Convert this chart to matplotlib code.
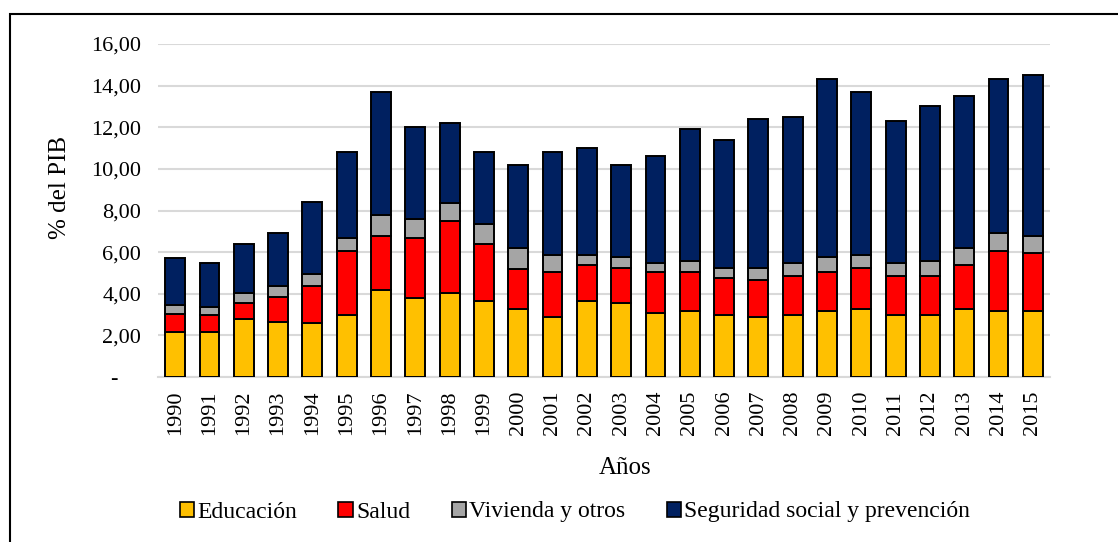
import matplotlib
matplotlib.use("Agg")
import matplotlib.pyplot as plt
from matplotlib.patches import Patch, Rectangle
import numpy as np

years = [str(y) for y in range(1990, 2016)]
educacion = [2.15, 2.15, 2.77, 2.66, 2.58, 2.98, 4.16, 3.78, 4.06, 3.65, 3.26,
             2.86, 3.65, 3.57, 3.06, 3.17, 2.98, 2.86, 2.98, 3.17, 3.26, 2.98,
             2.98, 3.26, 3.17, 3.17]
salud = [0.90, 0.83, 0.80, 1.20, 1.80, 3.08, 2.61, 2.91, 3.44, 2.73, 1.91,
         2.20, 1.73, 1.69, 2.00, 1.89, 1.79, 1.80, 1.88, 1.89, 2.00, 1.88,
         1.88, 2.12, 2.89, 2.80]
vivienda = [0.40, 0.40, 0.48, 0.51, 0.56, 0.60, 0.99, 0.88, 0.87, 0.96, 1.01,
            0.80, 0.48, 0.52, 0.43, 0.51, 0.49, 0.60, 0.63, 0.72, 0.60, 0.63,
            0.72, 0.80, 0.84, 0.81]
seguridad = [2.25, 2.11, 2.33, 2.53, 3.46, 4.14, 5.94, 4.43, 3.83, 3.46, 4.02,
             4.94, 5.14, 4.42, 5.11, 6.33, 6.14, 7.14, 7.01, 8.52, 7.84, 6.81,
             7.42, 7.32, 7.40, 7.72]
series_names = ["Educación", "Salud", "Vivienda y otros", "Seguridad social y prevención"]
colors = ["#FFC000", "#FF0000", "#A5A5A5", "#002060"]
yticks = [0, 2, 4, 6, 8, 10, 12, 14, 16]
ytick_labels = ["-    ", "2,00", "4,00", "6,00", "8,00", "10,00", "12,00", "14,00", "16,00"]

plt.rcParams['font.family'] = ['Liberation Serif', 'DejaVu Serif']

W, H = 1118, 542
fig = plt.figure(figsize=(W / 100, H / 100), dpi=100)

# outer border
fig.patches.append(Rectangle((10 / W, -0.1), 1.2, (H - 14) / H + 0.1,
                             transform=fig.transFigure, fill=False,
                             edgecolor="black", linewidth=1.5))

ax = fig.add_axes([158 / W, (H - 377) / H, (1050 - 158) / W, (377 - 44) / H])
x = np.arange(len(years))
bottom = np.zeros(len(years))
data = [educacion, salud, vivienda, seguridad]
for vals, c, name in zip(data, colors, series_names):
    ax.bar(x, vals, width=0.58, bottom=bottom, color=c, edgecolor="black",
           linewidth=1.4, label=name, zorder=3)
    bottom += np.array(vals)

ax.set_xlim(-0.5, len(years) - 0.5)
ax.set_ylim(0, 16)
ax.set_yticks(yticks)
ax.set_yticklabels(ytick_labels, fontsize=16)
ax.set_xticks(x)
ax.set_xticklabels(years, rotation=90, fontsize=16)
ax.tick_params(axis="both", length=0)
ax.tick_params(axis="y", pad=12)
ax.tick_params(axis="x", pad=10)
ax.grid(axis="y", color="#D9D9D9", linewidth=1.5, zorder=0)
for s in ["top", "right", "left"]:
    ax.spines[s].set_visible(False)
ax.spines["bottom"].set_color("#D9D9D9")
ax.spines["bottom"].set_linewidth(1.5)

fig.text(60 / W, 1 - 187 / H, "% del PIB", rotation=90, ha="center", va="center",
         fontsize=18)
fig.text(625 / W, 1 - 468 / H, "Años", ha="center", va="center", fontsize=18)

handles = [Patch(facecolor=c, edgecolor="black", linewidth=1.2) for c in colors]
fig.legend(handles, series_names, loc="center", bbox_to_anchor=(575 / W, 1 - 512 / H),
           ncol=4, frameon=False, fontsize=17, handlelength=0.6, handleheight=0.6,
           handletextpad=0.15, columnspacing=1.75, borderpad=0, borderaxespad=0)

fig.savefig("out.png", dpi=100)
